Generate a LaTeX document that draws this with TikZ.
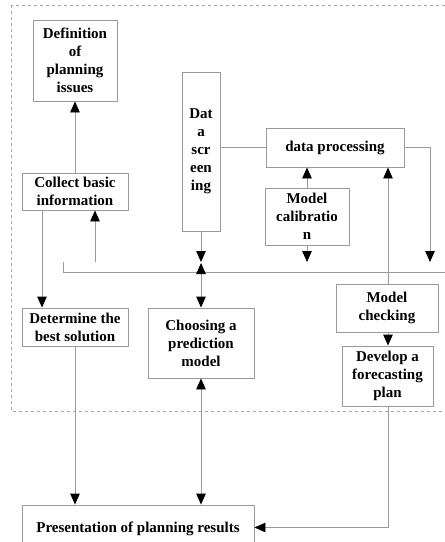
\documentclass[tikz,border=0pt]{standalone}
\usepackage{fontspec}
\setmainfont{Liberation Serif}
\usetikzlibrary{arrows.meta}
\definecolor{ln}{HTML}{9A9A9A}
\definecolor{fr}{HTML}{A8A8A8}
\begin{document}
\begin{tikzpicture}[x=1pt,y=-1pt,
  box/.style={draw=ln,line width=0.9pt,rectangle,align=center,inner sep=0pt,
    font=\fontsize{15}{18}\selectfont\bfseries,text=black},
  conn/.style={draw=ln,line width=0.9pt},
  tip/.style={-{Triangle[width=9.5pt,length=11pt,color=black]}},
  dtip/.style={{Triangle[width=9.5pt,length=11pt,color=black]}-{Triangle[width=9.5pt,length=11pt,color=black]}}]
\useasboundingbox (0,0) rectangle (445,542);
\draw[fr,dashed,line width=0.7pt] (11,5) rectangle (452,411);

\node[box,minimum width=84pt,minimum height=81pt] (def) at (75,60.5) {Definition\\of\\planning\\issues};
\node[box,minimum width=106pt,minimum height=37pt] (collect) at (75,191.5) {Collect basic\\information};
\node[box,minimum width=38pt,minimum height=159pt] (screen) at (201,151.5) {Dat\\a\\scr\\een\\ing};
\node[box,minimum width=138pt,minimum height=39pt] (dp) at (335,147.5) {data processing};
\node[box,minimum width=84pt,minimum height=57pt] (calib) at (307,216.5) {Model\\calibratio\\n};
\node[box,minimum width=106pt,minimum height=38pt] (det) at (75,327) {Determine the\\best solution};
\node[box,minimum width=106pt,minimum height=70pt] (choose) at (201,343) {Choosing a\\prediction\\model};
\node[box,minimum width=102pt,minimum height=48pt] (check) at (387,308) {Model\\checking};
\node[box,minimum width=91pt,minimum height=60pt] (develop) at (387.5,376) {Develop a\\forecasting\\plan};
\node[box,minimum width=232pt,minimum height=45pt,text depth=0pt] (pres) at (138,527.5) {Presentation of planning results};

\coordinate (lx0) at (63,262);
\coordinate (lx1) at (63,272);
\coordinate (lx2) at (450,272);
\coordinate (cup) at (95,262);
\coordinate (sdn) at (201,262);
\coordinate (sup) at (201,263);
\coordinate (dpc) at (430,147.5);
\coordinate (dpd) at (430,262);
\coordinate (cdn) at (307,262);
\coordinate (dvc) at (388,527.5);

\draw[conn] (lx0) -- (lx1) -- (lx2);
\draw[conn,tip] (collect.north) -- (def.south);
\draw[conn,tip] (cup) -- (cup |- collect.south);
\draw[conn,tip] (42,0 |- collect.south) -- (42,0 |- det.north);
\draw[conn,tip] (det.south) -- (det.south |- pres.north);
\draw[conn,tip] (screen.south) -- (sdn);
\draw[conn,dtip] (sup) -- (choose.north);
\draw[conn,dtip] (choose.south) -- (choose.south |- pres.north);
\draw[conn] (screen.east |- dp.west) -- (dp.west);
\draw[conn,tip] (dp.east) -- (dpc) -- (dpd);
\draw[conn,tip] (calib.north) -- (calib.north |- dp.south);
\draw[conn,tip] (calib.south) -- (cdn);
\draw[conn,tip] (388,0 |- check.north) -- (388,0 |- dp.south);
\draw[conn,tip] (388,0 |- check.south) -- (388,0 |- develop.north);
\draw[conn,tip] (388,0 |- develop.south) -- (dvc) -- (pres.east);
\end{tikzpicture}
\end{document}
